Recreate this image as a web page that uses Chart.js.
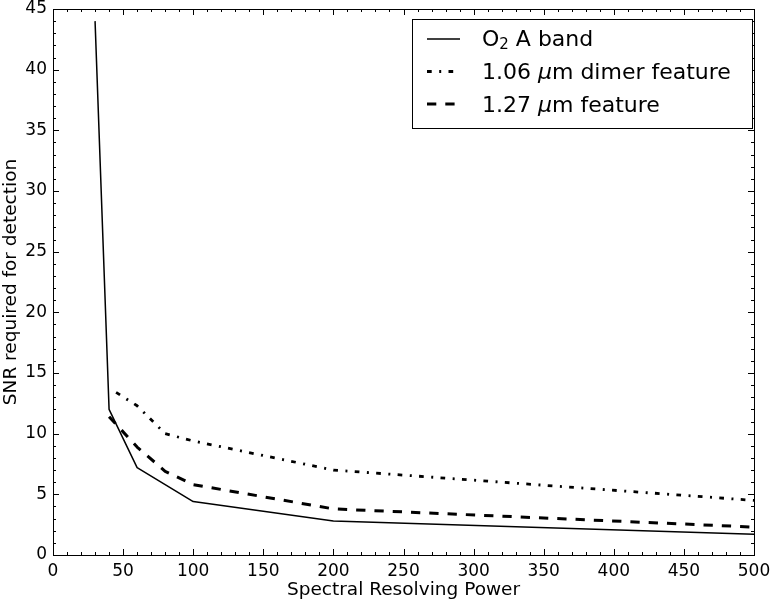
<!DOCTYPE html>
<html><head><meta charset="utf-8">
<script src="https://cdn.jsdelivr.net/npm/chart.js@4/dist/chart.umd.min.js"></script>
<style>html,body{margin:0;padding:0;background:#fff;overflow:hidden}</style>
</head><body>
<canvas id="c" width="773" height="601"></canvas>
<script>
// ---- data ----
const rpO2 = [30, 40, 60, 100, 200, 500];
const snrO2 = [44.0, 12.0, 7.2, 4.4, 2.8, 1.7];
const rpDimer = [45, 60, 80, 100, 200, 500];
const snrDimer = [13.4, 12.3, 10.0, 9.4, 7.0, 4.5];
const rp127 = [40, 60, 80, 100, 200, 500];
const snr127 = [11.4, 8.9, 6.9, 5.8, 3.8, 2.3];
const xTickValues = [0, 50, 100, 150, 200, 250, 300, 350, 400, 450, 500];
const yTickValues = [0, 5, 10, 15, 20, 25, 30, 35, 40, 45];
const xTitle = 'Spectral Resolving Power';
const yTitle = 'SNR required for detection';

const FONT = "'DejaVu Sans', 'Bitstream Vera Sans', sans-serif";
const toPts = (xs, ys) => xs.map((x, i) => ({x: x, y: ys[i]}));

const styles = [
  {width: 1.5, dash: []},
  {width: 2.8, dash: [4.7, 7.5, 2, 7.3]},
  {width: 3, dash: [9.3, 9]}
];

const datasets = [
  {label: 'O2 A band', data: toPts(rpO2, snrO2)},
  {label: '1.06 μm dimer feature', data: toPts(rpDimer, snrDimer)},
  {label: '1.27 μm feature', data: toPts(rp127, snr127)}
].map((d, i) => Object.assign(d, {
  borderColor: '#000', backgroundColor: '#000',
  borderWidth: styles[i].width, borderDash: styles[i].dash,
  borderCapStyle: 'butt', borderJoinStyle: 'round',
  pointRadius: 0, pointHoverRadius: 0, tension: 0, fill: false
}));

// inward ticks on all four sides + top/right frame
const framePlugin = {
  id: 'frame',
  afterDatasetsDraw(chart) {
    const {ctx, chartArea: a, scales: {x, y}} = chart;
    ctx.save();
    ctx.strokeStyle = '#000';
    ctx.lineWidth = 1;
    ctx.setLineDash([]);
    ctx.strokeRect(Math.round(a.left) + 0.5, Math.round(a.top) + 0.5,
                   Math.round(a.right) - Math.round(a.left), Math.round(a.bottom) - Math.round(a.top));
    ctx.beginPath();
    for (let v = 0; v <= 500; v += 10) {
      const px = Math.round(x.getPixelForValue(v)) + 0.5;
      const L = (v % 50 === 0) ? 6 : 3;
      ctx.moveTo(px, a.bottom); ctx.lineTo(px, a.bottom - L);
      ctx.moveTo(px, a.top); ctx.lineTo(px, a.top + L);
    }
    for (let v = 0; v <= 45; v += 1) {
      const py = Math.round(y.getPixelForValue(v)) + 0.5;
      const L = (v % 5 === 0) ? 6 : 3;
      ctx.moveTo(a.left, py); ctx.lineTo(a.left + L, py);
      ctx.moveTo(a.right, py); ctx.lineTo(a.right - L, py);
    }
    ctx.stroke();
    ctx.restore();
  }
};

// matplotlib-like legend box
const legendPlugin = {
  id: 'mplLegend',
  afterDraw(chart) {
    const {ctx, chartArea: a} = chart;
    const fs = 22;
    const boxL = 412.5, boxT = 19.5, boxR = Math.round(a.right) - 1.5, boxB = 128.5;
    ctx.save();
    ctx.fillStyle = '#fff';
    ctx.fillRect(boxL, boxT, boxR - boxL, boxB - boxT);
    ctx.strokeStyle = '#000';
    ctx.lineWidth = 1;
    ctx.setLineDash([]);
    ctx.strokeRect(boxL, boxT, boxR - boxL, boxB - boxT);
    const rowsY = [39, 71.5, 104];
    const baseY = [46, 79, 112];
    const sx0 = 427, sx1 = 460, tx = 482;
    chart.data.datasets.forEach((ds, i) => {
      ctx.beginPath();
      ctx.lineWidth = ds.borderWidth;
      ctx.setLineDash(ds.borderDash);
      ctx.lineCap = 'butt';
      ctx.moveTo(sx0, rowsY[i]); ctx.lineTo(sx1, rowsY[i]);
      ctx.stroke();
    });
    ctx.setLineDash([]);
    ctx.fillStyle = '#000';
    ctx.textBaseline = 'alphabetic';
    ctx.textAlign = 'left';
    const normal = fs + 'px ' + FONT;
    const italic = 'italic ' + fs + 'px ' + FONT;
    const small = Math.round(fs * 0.7) + 'px ' + FONT;
    // row 1: O₂ A band
    let xx = tx;
    ctx.font = normal; ctx.fillText('O', xx, baseY[0]); xx += ctx.measureText('O').width;
    ctx.font = small; ctx.fillText('2', xx, baseY[0] + 3); xx += ctx.measureText('2').width;
    ctx.font = normal; ctx.fillText(' A band', xx, baseY[0]);
    // rows 2 and 3 with italic mu
    [['1.06 ', 'm dimer feature'], ['1.27 ', 'm feature']].forEach((p, k) => {
      let x2 = tx; const by = baseY[k + 1];
      ctx.font = normal; ctx.fillText(p[0], x2, by); x2 += ctx.measureText(p[0]).width;
      ctx.font = italic; ctx.fillText('μ', x2, by); x2 += ctx.measureText('μ').width;
      ctx.font = normal; ctx.fillText(p[1], x2, by);
    });
    ctx.restore();
  }
};

new Chart(document.getElementById('c'), {
  type: 'line',
  data: {datasets: datasets},
  options: {
    responsive: false,
    animation: false,
    devicePixelRatio: 1,
    layout: {padding: {top: 9, right: 19, bottom: 0, left: 0}},
    plugins: {legend: {display: false}, tooltip: {enabled: false}},
    scales: {
      x: {
        type: 'linear', min: 0, max: 500,
        afterBuildTicks: s => { s.ticks = xTickValues.map(v => ({value: v})); },
        afterFit: s => { s.height = 46; s.paddingLeft = 0; s.paddingRight = 0; },
        grid: {display: false, drawTicks: false},
        border: {display: true, color: '#000', width: 1},
        ticks: {color: '#000', font: {family: FONT, size: 17}, padding: 6, maxRotation: 0, autoSkip: false},
        title: {display: true, text: xTitle, color: '#000', font: {family: FONT, size: 18.5}, padding: {top: 0, bottom: 0}}
      },
      y: {
        type: 'linear', min: 0, max: 45,
        afterBuildTicks: s => { s.ticks = yTickValues.map(v => ({value: v})); },
        afterFit: s => { s.width = 53; s.paddingTop = 0; s.paddingBottom = 0; },
        grid: {display: false, drawTicks: false},
        border: {display: true, color: '#000', width: 1},
        ticks: {color: '#000', font: {family: FONT, size: 17}, padding: 6, autoSkip: false},
        title: {display: true, text: yTitle, color: '#000', font: {family: FONT, size: 18.5}, padding: {top: 0, bottom: 0}}
      }
    }
  },
  plugins: [framePlugin, legendPlugin]
});
</script>
</body></html>
